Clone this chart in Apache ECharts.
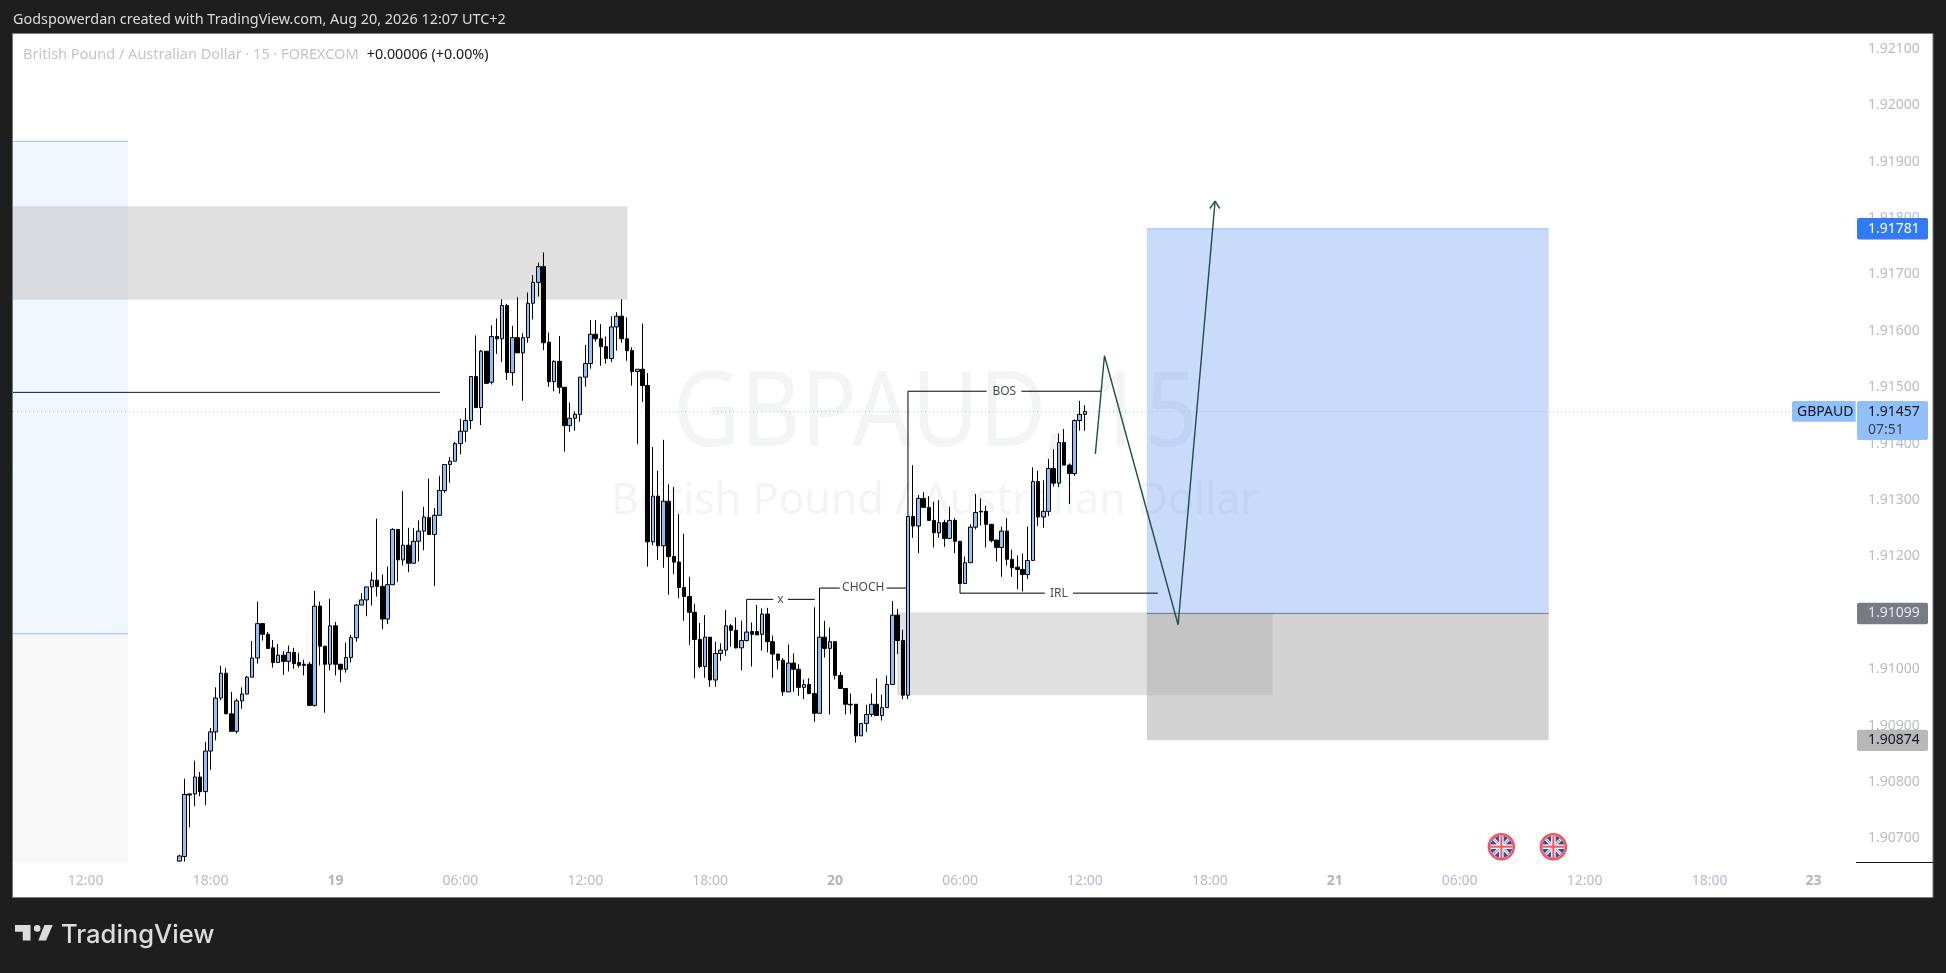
<!DOCTYPE html>
<html>
<head>
<meta charset="utf-8">
<style>html,body{margin:0;padding:0;background:#1e1e1e}#c{width:1946px;height:973px}</style>
<script src="https://cdn.jsdelivr.net/npm/echarts@6/dist/echarts.min.js"></script>
</head>
<body>
<div id="c"></div>
<script>
const opens=[1.90660,1.90668,1.90779,1.90779,1.90809,1.90783,1.90855,1.90889,1.90949,1.90993,
1.90921,1.90890,1.90944,1.90956,1.90986,1.91020,1.91081,1.91062,1.91038,1.91012,
1.91025,1.91014,1.91030,1.91012,1.91009,1.91009,1.90936,1.91112,1.91041,1.91009,
1.91077,1.91009,1.91000,1.91021,1.91056,1.91114,1.91123,1.91146,1.91158,1.91147,
1.91089,1.91150,1.91248,1.91194,1.91220,1.91188,1.91227,1.91245,1.91269,1.91239,
1.91273,1.91317,1.91363,1.91369,1.91400,1.91422,1.91441,1.91519,1.91464,1.91564,
1.91509,1.91590,1.91586,1.91645,1.91526,1.91588,1.91561,1.91588,1.91649,1.91686,
1.91714,1.91580,1.91510,1.91546,1.91500,1.91432,1.91445,1.91452,1.91518,1.91542,
1.91594,1.91586,1.91572,1.91551,1.91607,1.91626,1.91586,1.91565,1.91528,1.91532,
1.91503,1.91226,1.91307,1.91219,1.91298,1.91200,1.91190,1.91145,1.91129,1.91101,
1.91053,1.91005,1.91057,1.90981,1.91028,1.91034,1.91077,1.91069,1.91038,1.91051,
1.91067,1.91067,1.91062,1.91098,1.91049,1.91027,1.91016,1.90960,1.91011,1.91000,
1.90968,1.90973,1.90957,1.90922,1.91057,1.91037,1.91049,1.90989,1.90966,1.90938,
1.90938,1.90882,1.90904,1.90920,1.90938,1.90918,1.90932,1.90973,1.91096,1.91051,
1.90954,1.91271,1.91254,1.91303,1.91287,1.91264,1.91242,1.91260,1.91232,1.91264,
1.91227,1.91152,1.91189,1.91252,1.91280,1.91280,1.91257,1.91229,1.91216,1.91245,
1.91195,1.91181,1.91177,1.91168,1.91193,1.91333,1.91270,1.91280,1.91356,1.91330,
1.91402,1.91362,1.91347,1.91441,1.91452];
const closes=[1.90669,1.90778,1.90777,1.90809,1.90783,1.90855,1.90889,1.90949,1.90993,1.90921,
1.90890,1.90944,1.90956,1.90986,1.91020,1.91081,1.91062,1.91037,1.91012,1.91025,
1.91014,1.91030,1.91010,1.91007,1.91007,1.90936,1.91112,1.91041,1.91009,1.91077,
1.91009,1.91000,1.91021,1.91056,1.91114,1.91123,1.91146,1.91158,1.91147,1.91089,
1.91150,1.91248,1.91194,1.91220,1.91188,1.91227,1.91245,1.91270,1.91239,1.91273,
1.91317,1.91363,1.91369,1.91400,1.91422,1.91441,1.91519,1.91464,1.91564,1.91507,
1.91590,1.91586,1.91645,1.91526,1.91588,1.91561,1.91588,1.91649,1.91686,1.91714,
1.91579,1.91510,1.91546,1.91500,1.91432,1.91445,1.91452,1.91518,1.91542,1.91594,
1.91586,1.91572,1.91551,1.91607,1.91626,1.91586,1.91565,1.91528,1.91532,1.91503,
1.91226,1.91307,1.91219,1.91298,1.91200,1.91190,1.91145,1.91129,1.91101,1.91053,
1.91005,1.91057,1.90981,1.91028,1.91034,1.91077,1.91069,1.91038,1.91051,1.91066,
1.91062,1.91061,1.91098,1.91049,1.91027,1.91016,1.90960,1.91011,1.91000,1.90968,
1.90973,1.90957,1.90922,1.91057,1.91037,1.91049,1.90989,1.90966,1.90938,1.90937,
1.90882,1.90904,1.90920,1.90938,1.90918,1.90932,1.90973,1.91096,1.91051,1.90954,
1.91271,1.91254,1.91303,1.91287,1.91264,1.91242,1.91260,1.91232,1.91264,1.91227,
1.91152,1.91189,1.91252,1.91278,1.91279,1.91257,1.91228,1.91216,1.91245,1.91195,
1.91180,1.91177,1.91168,1.91193,1.91333,1.91270,1.91280,1.91356,1.91330,1.91402,
1.91362,1.91347,1.91441,1.91452,1.91457];
const highs=[1.90671,1.90806,1.90779,1.90838,1.90818,1.90871,1.90896,1.90968,1.91006,1.91002,
1.90960,1.90948,1.90968,1.90988,1.91050,1.91120,1.91081,1.91066,1.91052,1.91045,
1.91032,1.91042,1.91038,1.91029,1.91017,1.91013,1.91139,1.91120,1.91041,1.91125,
1.91084,1.91009,1.91047,1.91061,1.91116,1.91135,1.91146,1.91172,1.91267,1.91168,
1.91182,1.91250,1.91248,1.91316,1.91251,1.91250,1.91264,1.91288,1.91338,1.91286,
1.91343,1.91363,1.91376,1.91403,1.91444,1.91463,1.91519,1.91592,1.91566,1.91564,
1.91610,1.91622,1.91656,1.91648,1.91609,1.91660,1.91596,1.91668,1.91699,1.91721,
1.91739,1.91597,1.91548,1.91591,1.91500,1.91473,1.91457,1.91518,1.91575,1.91619,
1.91619,1.91612,1.91590,1.91626,1.91633,1.91656,1.91624,1.91571,1.91532,1.91613,
1.91525,1.91394,1.91352,1.91407,1.91328,1.91323,1.91275,1.91240,1.91164,1.91116,
1.91082,1.91096,1.91057,1.91049,1.91046,1.91105,1.91080,1.91092,1.91086,1.91066,
1.91083,1.91114,1.91108,1.91109,1.91060,1.91027,1.91020,1.91044,1.91028,1.91009,
1.90982,1.90984,1.91110,1.91057,1.91086,1.91074,1.91049,1.90995,1.90966,1.90957,
1.90938,1.90904,1.90937,1.90957,1.90984,1.90955,1.90989,1.91121,1.91107,1.91070,
1.91271,1.91362,1.91309,1.91314,1.91307,1.91297,1.91300,1.91265,1.91288,1.91268,
1.91227,1.91200,1.91257,1.91311,1.91303,1.91290,1.91257,1.91230,1.91253,1.91268,
1.91212,1.91202,1.91205,1.91253,1.91358,1.91352,1.91335,1.91373,1.91390,1.91418,
1.91426,1.91365,1.91443,1.91476,1.91468];
const lows=[1.90659,1.90659,1.90720,1.90757,1.90775,1.90759,1.90822,1.90874,1.90945,1.90921,
1.90890,1.90886,1.90930,1.90956,1.90986,1.91010,1.91051,1.91037,1.91003,1.91012,
1.90990,1.90996,1.91001,1.91003,1.90989,1.90936,1.90934,1.91007,1.90923,1.90998,
1.90989,1.90977,1.90994,1.91012,1.91049,1.91114,1.91094,1.91113,1.91129,1.91071,
1.91080,1.91150,1.91155,1.91184,1.91172,1.91188,1.91191,1.91211,1.91239,1.91148,
1.91273,1.91313,1.91331,1.91369,1.91381,1.91403,1.91426,1.91464,1.91433,1.91507,
1.91505,1.91559,1.91545,1.91513,1.91503,1.91561,1.91476,1.91579,1.91620,1.91661,
1.91566,1.91501,1.91493,1.91489,1.91386,1.91421,1.91423,1.91439,1.91501,1.91533,
1.91581,1.91538,1.91542,1.91545,1.91565,1.91579,1.91547,1.91503,1.91399,1.91474,
1.91182,1.91220,1.91194,1.91180,1.91132,1.91169,1.91126,1.91086,1.91043,1.90984,
1.91002,1.90985,1.90969,1.90969,1.91015,1.91024,1.91040,1.91037,1.90998,1.91049,
1.91005,1.91061,1.91033,1.91030,1.90985,1.91000,1.90953,1.90960,1.90960,1.90953,
1.90947,1.90957,1.90907,1.90922,1.91021,1.90920,1.90982,1.90966,1.90920,1.90921,
1.90870,1.90882,1.90889,1.90916,1.90918,1.90909,1.90932,1.90973,1.91027,1.90947,
1.90947,1.91233,1.91206,1.91287,1.91264,1.91216,1.91233,1.91217,1.91232,1.91206,
1.91152,1.91152,1.91189,1.91248,1.91255,1.91216,1.91225,1.91191,1.91164,1.91184,
1.91164,1.91142,1.91138,1.91160,1.91193,1.91254,1.91251,1.91272,1.91324,1.91323,
1.91362,1.91293,1.91343,1.91423,1.91423];

// x axis counts 15-minute bars; bar 0 is Aug 18, 16:30
const timeTickBars=[-18,6,30,54,78,102,126,150,174,198,222,246,270,294,314];
const timeTickLabels=['12:00','18:00','19','06:00','12:00','18:00','20','06:00','12:00','18:00','21','06:00','12:00','18:00','23'];
const priceTicks=[1.921,1.92,1.919,1.918,1.917,1.916,1.915,1.914,1.913,1.912,1.911,1.91,1.909,1.908,1.907];
const xMin=-31.95,xMax=321.95,yMin=1.906583,yMax=1.921264;

// drawn zones: [bar start, bar end, price top, price bottom]
const zones=[
 [xMin,-9.86,1.91936,1.91063],
 [xMin,-9.86,1.91063,yMin],
 [185.9,263.1,1.91781,1.91099],
 [185.9,263.1,1.91099,1.90874],
 [xMin,86.1,1.91821,1.91655],
 [137.9,210.05,1.91101,1.90954]
];
const zoneFills=['#f1f7ff','#f8f8f8','rgba(35,111,235,0.25)','rgba(79,79,79,0.25)','rgba(170,170,170,0.364)','rgba(170,170,170,0.364)'];

const lastPrice=1.91457;
const levelLine=[[xMin,1.91491],[50.1,1.91491]];
const paleTop=[[xMin,1.91936],[-9.86,1.91936]];
const paleMid=[[xMin,1.91063],[-9.86,1.91063]];
const entryLine=[[185.9,1.91099],[263.1,1.91099]];
const targetLine=[[185.9,1.91781],[263.1,1.91781]];
const pathLine=[[176,1.91382],[177.75,1.91556],[191.9,1.91079],[199,1.9183]];
const arrowHead=[[198,1.91817],[199,1.9183],[199.9,1.91817]];
const bosLeft=[[140,1.91271],[140,1.91493],[155.1,1.91493]];
const bosRight=[[161.8,1.91493],[177.2,1.91493]];
const chochLeft=[[123,1.91057],[123,1.91144],[126.9,1.91144]];
const chochRight=[[135.9,1.91144],[140,1.91144]];
const xLeft=[[109,1.91066],[109,1.91124],[114.1,1.91124]];
const xRight=[[116.9,1.91124],[122.1,1.91124]];
const irlLeft=[[150,1.91152],[150,1.91135],[166.3,1.91135]];
const irlRight=[[171.7,1.91135],[188,1.91135]];
const noteTexts=[[158.5,1.91493,'BOS'],[131.4,1.91144,'CHOCH'],[115.5,1.91124,'x'],[169,1.91135,'IRL']];
const eventBars=[254,264];

const FONT='"Noto Sans",sans-serif';
const chart=echarts.init(document.getElementById('c'),null,{renderer:'canvas'});
const candles=opens.map((o,i)=>[i,o,closes[i],lows[i],highs[i]]);

function line(pts,color,width,type){
  return {type:'line',data:pts,showSymbol:false,symbol:'none',silent:true,animation:false,z:3,
    lineStyle:{color:color,width:width,type:type||'solid',cap:'butt'},emphasis:{disabled:true}};
}
const series=[
 {type:'custom',data:zones,encode:{x:[0,1],y:[2,3]},z:1,silent:true,animation:false,
  renderItem:(p,api)=>{
    const a=api.coord([api.value(0),api.value(2)]),b=api.coord([api.value(1),api.value(3)]);
    return {type:'rect',shape:{x:a[0],y:a[1],width:b[0]-a[0],height:b[1]-a[1]},style:{fill:zoneFills[p.dataIndex]}};
  }},
 line(paleTop,'#90bff9',1),line(paleMid,'#90bff9',1),line(targetLine,'#90bff9',1),line(entryLine,'#787b86',1),
 line(levelLine,'#131722',1),
 Object.assign(line([[xMin,lastPrice],[xMax,lastPrice]],'#a9c4e8',1,[1,3]),{z:1.5}),
 {type:'candlestick',data:candles,barWidth:4,z:4,silent:true,animation:false,
  itemStyle:{color:'#90bff9',color0:'#000000',borderColor:'#000000',borderColor0:'#000000',borderWidth:1},emphasis:{disabled:true}},
 line(bosLeft,'#000',1),line(bosRight,'#000',1),line(chochLeft,'#000',1),line(chochRight,'#000',1),
 line(xLeft,'#000',1),line(xRight,'#000',1),line(irlLeft,'#000',1),line(irlRight,'#000',1),
 line(pathLine,'#1d4f46',1.4),line(arrowHead,'#1d4f46',1.4),
 {type:'scatter',data:noteTexts,symbolSize:0,silent:true,animation:false,z:6,
  label:{show:true,position:'inside',formatter:p=>p.value[2],fontFamily:FONT,fontSize:12,color:'#131722'}}
];

chart.setOption({
 animation:false,
 backgroundColor:'#1e1e1e',
 grid:{left:13,top:34,width:1842,height:828,containLabel:false},
 xAxis:{type:'value',min:xMin,max:xMax,axisLine:{show:false},axisTick:{show:false},splitLine:{show:false},
   axisLabel:{customValues:timeTickBars,margin:12,fontFamily:FONT,fontSize:14,color:'#b8bbc4',
     formatter:v=>{const s=timeTickLabels[timeTickBars.indexOf(v)];return s.length===2?'{b|'+s+'}':s;},
     rich:{b:{fontFamily:FONT,fontSize:14,fontWeight:'bold',color:'#b2b5be'}}}},
 yAxis:{type:'value',position:'right',min:yMin,max:yMax,axisLine:{show:false},axisTick:{show:false},splitLine:{show:false},
   axisLabel:{customValues:priceTicks,margin:13,fontFamily:FONT,fontSize:14,color:'#b8bbc4',formatter:v=>v.toFixed(5)}},
 series:series
});

const X=v=>chart.convertToPixel({xAxisIndex:0},v);
const Y=v=>chart.convertToPixel({yAxisIndex:0},v);
const mctx=document.createElement('canvas').getContext('2d');
const fitScale=(text,font,target)=>{mctx.font=font;return target/mctx.measureText(text).width;};
const priceTags=[[1.91781,'1.91781','#3179f5','#ffffff'],[1.91099,'1.91099','#787b86','#e8e8ee'],[1.90874,'1.90874','#b8b8b8','#131722']];
const g=[];
g.push({type:'rect',z:-5,shape:{x:12.5,y:33.5,width:1920.5,height:864},style:{fill:'#ffffff',stroke:'#777777',lineWidth:1}});
const wmFont='104px "Noto Sans"',wmFont2='44px "Noto Sans"';
g.push({type:'text',z:-4,x:935.5,y:416,scaleX:fitScale('GBPAUD, 15',wmFont,525),style:{x:0,y:0,text:'GBPAUD, 15',align:'center',verticalAlign:'middle',font:wmFont,fill:'#f3f4f4'}});
g.push({type:'text',z:-4,x:934.5,y:501,scaleX:fitScale('British Pound / Australian Dollar',wmFont2,647),style:{x:0,y:0,text:'British Pound / Australian Dollar',align:'center',verticalAlign:'middle',font:wmFont2,fill:'#f3f4f4'}});
g.push({type:'text',z:50,style:{x:13,y:19.5,text:'Godspowerdan created with TradingView.com, Aug 20, 2026 12:07 UTC+2',verticalAlign:'middle',font:'14.4px '+FONT,fill:'#dcdcdc'}});
g.push({type:'text',z:50,style:{x:23,y:55,text:'British Pound / Australian Dollar · 15 · FOREXCOM',verticalAlign:'middle',font:'14.5px '+FONT,fill:'#c2c4cc'}});
g.push({type:'text',z:50,style:{x:366.7,y:55,text:'+0.00006 (+0.00%)',verticalAlign:'middle',font:'14.3px '+FONT,fill:'#131722'}});
g.push({type:'line',z:50,shape:{x1:1856,y1:862.5,x2:1933,y2:862.5},style:{stroke:'#131722',lineWidth:1}});
priceTags.forEach(t=>{
  const y=Y(t[0]);
  g.push({type:'rect',z:50,shape:{x:1857,y:y-10.7,width:71,height:21.4,r:2},style:{fill:t[2]}});
  g.push({type:'text',z:51,style:{x:1868,y:y,text:t[1],verticalAlign:'middle',font:'14px '+FONT,fill:t[3]}});
});
const ly=Y(lastPrice);
g.push({type:'rect',z:50,shape:{x:1792,y:ly-10.6,width:63.7,height:20.8,r:[2,0,0,2]},style:{fill:'#90bff9'}});
g.push({type:'text',z:51,style:{x:1797,y:ly,text:'GBPAUD',verticalAlign:'middle',font:'14px '+FONT,fill:'#131722'}});
g.push({type:'rect',z:50,shape:{x:1857,y:ly-10.6,width:71,height:39,r:2},style:{fill:'#90bff9'}});
g.push({type:'text',z:51,style:{x:1868,y:ly,text:'1.91457',verticalAlign:'middle',font:'14px '+FONT,fill:'#131722'}});
g.push({type:'text',z:51,style:{x:1868,y:ly+18.5,text:'07:51',verticalAlign:'middle',font:'14px '+FONT,fill:'#3a4250'}});
eventBars.forEach(b=>{
  const cx=X(b),cy=846.7,r=10.5,d=r*0.707;
  const seg=(x1,y1,x2,y2,c,w)=>g.push({type:'line',z:20,shape:{x1:cx+x1,y1:cy+y1,x2:cx+x2,y2:cy+y2},style:{stroke:c,lineWidth:w}});
  g.push({type:'circle',z:20,shape:{cx:cx,cy:cy,r:11},style:{fill:'#2750a8'}});
  seg(-d,-d,d,d,'#ffffff',3);seg(-d,d,d,-d,'#ffffff',3);
  seg(-d,-d,d,d,'#f7525f',1);seg(-d,d,d,-d,'#f7525f',1);
  seg(-r,0,r,0,'#ffffff',4.5);seg(0,-r,0,r,'#ffffff',4.5);
  seg(-r,0,r,0,'#f7525f',2);seg(0,-r,0,r,'#f7525f',2);
  g.push({type:'circle',z:20,shape:{cx:cx,cy:cy,r:12.5},style:{fill:'none',stroke:'#f7525f',lineWidth:2.5}});
});
const logoPt=(a)=>a.map(p=>[15+p[0]*1.11,918.4+p[1]*1.11]);
g.push({type:'polygon',z:50,shape:{points:logoPt([[0,6],[14,6],[14,20],[7,20],[7,12],[0,12]])},style:{fill:'#dcdcdc'}});
g.push({type:'polygon',z:50,shape:{points:logoPt([[21,20],[26.5,6],[34,6],[28,20]])},style:{fill:'#dcdcdc'}});
g.push({type:'circle',z:50,shape:{cx:15+20*1.11,cy:918.4+9*1.11,r:3.3},style:{fill:'#dcdcdc'}});
g.push({type:'text',z:50,style:{x:61,y:935.5,text:'TradingView',verticalAlign:'middle',font:'500 25.6px Inter,'+FONT,fill:'#dcdcdc'}});
chart.setOption({graphic:{elements:g}});
</script>
</body>
</html>
